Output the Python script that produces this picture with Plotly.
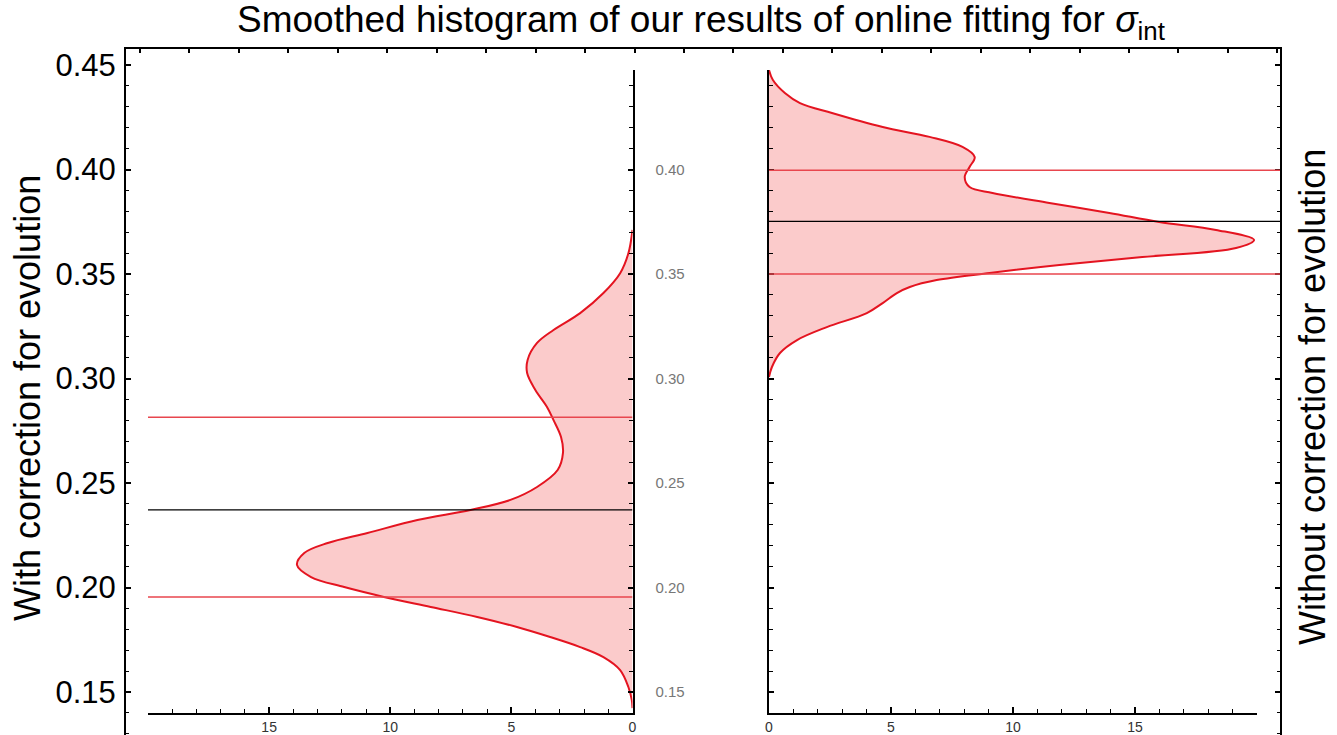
import plotly.graph_objects as go

# ---------------- data ----------------
left_sigma = [0.3711, 0.3599, 0.3504, 0.3409, 0.3313, 0.3232, 0.3170, 0.3089, 0.3026, 0.2945,
              0.2864, 0.2801, 0.2720, 0.2644, 0.2562, 0.2481, 0.2419, 0.2371, 0.2323, 0.2261,
              0.2213, 0.2165, 0.2108, 0.2050, 0.2002, 0.1955, 0.1907, 0.1859, 0.1811, 0.1763,
              0.1715, 0.1667, 0.1605, 0.1524, 0.1462, 0.1423]
left_density = [0.0, 0.17, 0.51, 1.20, 2.16, 3.26, 3.94, 4.33, 4.35, 4.01,
                3.53, 3.26, 2.95, 2.87, 3.09, 3.94, 5.04, 6.69, 8.88, 10.94,
                12.58, 13.55, 13.85, 13.27, 11.90, 10.26, 8.33, 6.41, 4.77, 3.40,
                2.16, 1.20, 0.51, 0.17, 0.03, 0.0]

right_sigma = [0.4476, 0.4428, 0.4366, 0.4318, 0.4270, 0.4203, 0.4156, 0.4108, 0.4060, 0.4012,
               0.3964, 0.3916, 0.3888, 0.3840, 0.3792, 0.3749, 0.3711, 0.3663, 0.3624, 0.3581,
               0.3543, 0.3505, 0.3471, 0.3438, 0.3409, 0.3361, 0.3313, 0.3246, 0.3184, 0.3122,
               0.3055, 0.3007]
right_density = [0.0, 0.16, 0.65, 1.27, 2.58, 4.66, 6.58, 7.93, 8.43, 8.22,
                 8.02, 8.22, 9.16, 11.49, 13.95, 15.99, 18.32, 19.88, 19.14, 15.30,
                 11.90, 9.04, 6.87, 5.77, 5.24, 4.66, 4.01, 2.37, 1.15, 0.45,
                 0.12, 0.0]

left_red_lines = [0.2814, 0.1954]
left_black_line = [0.2371]
right_red_lines = [0.3996, 0.3500]
right_black_line = [0.3752]

frame_ticks = [0.15, 0.20, 0.25, 0.30, 0.35, 0.40, 0.45]
inner_ticks = [0.15, 0.20, 0.25, 0.30, 0.35, 0.40]
x_ticks = [0, 5, 10, 15]

title_text = "Smoothed histogram of our results of online fitting for <i>σ</i><sub>int</sub>"
left_title = "With correction for evolution"
right_title = "Without correction for evolution"

# ---------------- styling ----------------
FONT = "Liberation Sans, Arial, sans-serif"
CURVE = "rgb(228,20,32)"
FILL = "rgb(251,203,203)"
REDLINE = "rgb(232,70,78)"

W, H = 1337, 735
ML, MR, MT, MB = 126, 57, 49, 0
PW = W - ML - MR
PH = H - MT - MB
PX_PER_UNIT_Y = 2090.0
y_top = 0.45 + (65 - MT) / PX_PER_UNIT_Y
y_bot = y_top - PH / PX_PER_UNIT_Y

def px_x(p):
    return (p - ML) / PW

def px_y(p):
    return (H - MB - p) / PH

inner_top_px, inner_bot_px = 70, 713
inner_dom = [px_y(inner_bot_px), px_y(inner_top_px)]
inner_range = [0.45 - (inner_bot_px - 65) / PX_PER_UNIT_Y, 0.45 - (inner_top_px - 65) / PX_PER_UNIT_Y]

fig = go.Figure()

# invisible trace so that the outer frame subplot (x, y) is drawn
fig.add_trace(go.Scatter(x=[PW / 2], y=[0.3], xaxis="x", yaxis="y", mode="markers",
                         marker=dict(opacity=0, size=1), showlegend=False, hoverinfo="skip"))

# left panel
fig.add_trace(go.Scatter(x=left_density, y=left_sigma, xaxis="x2", yaxis="y2",
                         mode="lines", line=dict(color=CURVE, width=2, shape="spline", smoothing=1.0),
                         fill="tozerox", fillcolor=FILL, showlegend=False, hoverinfo="skip"))
# right panel
fig.add_trace(go.Scatter(x=right_density, y=right_sigma, xaxis="x3", yaxis="y3",
                         mode="lines", line=dict(color=CURVE, width=2, shape="spline", smoothing=1.0),
                         fill="tozerox", fillcolor=FILL, showlegend=False, hoverinfo="skip"))

shapes = []
for v in left_red_lines:
    shapes.append(dict(type="line", xref="x2", yref="y2", x0=20, x1=0, y0=v, y1=v,
                       line=dict(color=REDLINE, width=1.5)))
for v in left_black_line:
    shapes.append(dict(type="line", xref="x2", yref="y2", x0=20, x1=0, y0=v, y1=v,
                       line=dict(color="black", width=1.2)))
for v in right_red_lines:
    shapes.append(dict(type="line", xref="paper", yref="y3", x0=px_x(769), x1=1.0, y0=v, y1=v,
                       line=dict(color=REDLINE, width=1.5)))
for v in right_black_line:
    shapes.append(dict(type="line", xref="paper", yref="y3", x0=px_x(769), x1=1.0, y0=v, y1=v,
                       line=dict(color="black", width=1.2)))

tickfont_small = dict(family=FONT, size=14, color="#333333")

fig.update_layout(
    width=W, height=H,
    margin=dict(l=ML, r=MR, t=MT, b=MB, autoexpand=False),
    paper_bgcolor="white", plot_bgcolor="rgba(0,0,0,0)",
    showlegend=False,
    shapes=shapes,
    # outer frame
    xaxis=dict(domain=[0, 1], range=[0, PW], side="top", anchor="y",
               showline=True, linecolor="black", linewidth=2, mirror=False,
               ticks="inside", tick0=14, dtick=49.45, ticklen=4, tickwidth=1.5, tickcolor="black",
               showticklabels=False, showgrid=False, zeroline=False, fixedrange=True),
    yaxis=dict(domain=[0, 1], range=[y_bot, y_top], anchor="x",
               showline=True, linecolor="black", linewidth=2, mirror="ticks",
               ticks="inside", tickvals=frame_ticks, ticktext=[f"{v:.2f}" for v in frame_ticks],
               ticklen=5, tickwidth=1.5, tickcolor="black",
               minor=dict(dtick=0.01, tick0=0.0, ticks="inside", ticklen=3, tickwidth=1, tickcolor="black"),
               tickfont=dict(family=FONT, size=31, color="black"), ticklabelstandoff=2,
               showgrid=False, zeroline=False, fixedrange=True),
    # left panel
    xaxis2=dict(domain=[px_x(148), px_x(632.5)], range=[20, 0], anchor="y2", side="bottom",
                showline=True, linecolor="black", linewidth=2,
                ticks="inside", tickvals=x_ticks, ticklen=6, tickwidth=1.5, tickcolor="black",
                minor=dict(dtick=1, tick0=0, ticks="inside", ticklen=4, tickwidth=1.2, tickcolor="black"),
                tickfont=tickfont_small, showgrid=False, zeroline=False, fixedrange=True),
    yaxis2=dict(domain=inner_dom, range=inner_range, anchor="x2", side="right",
                showline=True, linecolor="black", linewidth=2,
                ticks="inside", tickvals=inner_ticks, ticktext=[f"{v:.2f}" for v in inner_ticks],
                ticklen=5, tickwidth=1.5, tickcolor="black",
                minor=dict(dtick=0.01, tick0=0.0, ticks="inside", ticklen=4, tickwidth=1.2, tickcolor="black"),
                tickfont=dict(family=FONT, size=15, color="#777777"), ticklabelstandoff=18,
                showgrid=False, zeroline=False, fixedrange=True),
    # right panel
    xaxis3=dict(domain=[px_x(769), px_x(1257)], range=[0, 20], anchor="y3", side="bottom",
                showline=True, linecolor="black", linewidth=2,
                ticks="inside", tickvals=x_ticks, ticklen=6, tickwidth=1.5, tickcolor="black",
                minor=dict(dtick=1, tick0=0, ticks="inside", ticklen=4, tickwidth=1.2, tickcolor="black"),
                tickfont=tickfont_small, showgrid=False, zeroline=False, fixedrange=True),
    yaxis3=dict(domain=inner_dom, range=inner_range, anchor="x3", side="left",
                showline=True, linecolor="black", linewidth=2,
                ticks="inside", tickvals=inner_ticks, ticklen=5, tickwidth=1.5, tickcolor="black",
                minor=dict(dtick=0.01, tick0=0.0, ticks="inside", ticklen=4, tickwidth=1.2, tickcolor="black"),
                showticklabels=False, showgrid=False, zeroline=False, fixedrange=True),
    annotations=[
        dict(text=title_text, xref="paper", yref="paper", x=px_x(701), y=px_y(22),
             xanchor="center", yanchor="middle", showarrow=False,
             font=dict(family=FONT, size=37, color="black")),
        dict(text=left_title, xref="paper", yref="paper", x=px_x(27), y=px_y(398),
             xanchor="center", yanchor="middle", showarrow=False, textangle=-90,
             font=dict(family=FONT, size=36, color="black")),
        dict(text=right_title, xref="paper", yref="paper", x=px_x(1312), y=px_y(397),
             xanchor="center", yanchor="middle", showarrow=False, textangle=-90,
             font=dict(family=FONT, size=36, color="black")),
    ],
)

fig.write_html("out.html")
